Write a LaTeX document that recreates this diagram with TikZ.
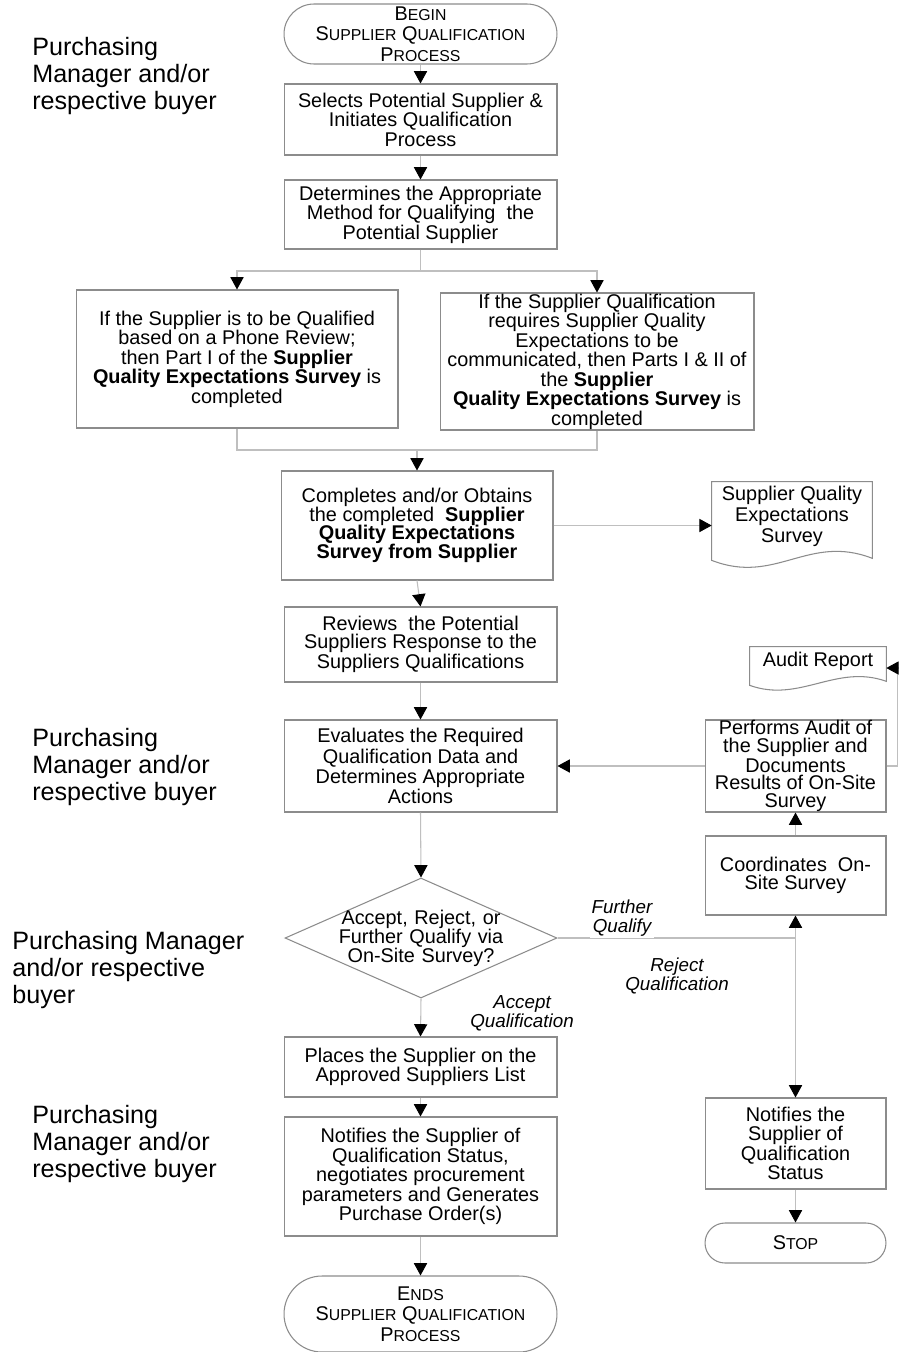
\documentclass[tikz,border=0pt]{standalone}
\usepackage{fontspec}
\setmainfont{Liberation Sans}
\usetikzlibrary{shapes.geometric,arrows.meta}
\definecolor{boxgray}{gray}{0.55}
\definecolor{linegray}{gray}{0.75}
\newcommand{\smallcap}[2]{#1{\fontsize{9}{11.7}\selectfont #2}}

\begin{document}
\begin{tikzpicture}[x=0.02cm,y=-0.02cm,
    box/.style={draw=boxgray, line width=0.6pt, align=center, inner xsep=2pt, inner ysep=0pt, font=\fontsize{11.3}{11.1}\selectfont},
    tightbox/.style={box, font=\fontsize{11.3}{10.1}\selectfont},
    term/.style={box, rounded corners=0.6cm, font=\fontsize{11.3}{11.7}\selectfont},
    decision/.style={diamond, draw=boxgray, line width=0.6pt, align=center, text width=3.5cm, inner xsep=-0.5cm, inner ysep=0pt, shape aspect=2.27, font=\fontsize{11.3}{10.8}\selectfont},
    doc/.style={align=center, inner sep=0pt, font=\fontsize{11.3}{11.9}\selectfont},
    docline/.style={draw=boxgray, line width=0.6pt},
    flow/.style={draw=linegray, line width=0.6pt, -{Triangle[width=7.5pt,length=7pt,color=black]}},
    link/.style={draw=linegray, line width=0.6pt},
    role/.style={anchor=west, align=left, inner sep=0pt, font=\fontsize{14.3}{15.2}\selectfont},
    choice/.style={align=center, inner sep=1pt, font=\itshape\fontsize{10.7}{10.8}\selectfont}]
    \useasboundingbox[fill=white] (0,0) rectangle (899,1352);

    % roles
    \node[role] (pm1) at (32,76) {Purchasing\\Manager and/or\\respective buyer};
    \node[role] (pm2) at (32,767) {Purchasing\\Manager and/or\\respective buyer};
    \node[role] (pm3) at (12,970) {Purchasing Manager\\and/or respective\\buyer};
    \node[role] (pm4) at (32,1144) {Purchasing\\Manager and/or\\respective buyer};

    % main column
    \node[term, minimum width=5.46cm, minimum height=1.2cm] (begin) at (420.5,34) {\smallcap{B}{EGIN}\\\smallcap{S}{UPPLIER} \smallcap{Q}{UALIFICATION}\\\smallcap{P}{ROCESS}};
    \node[box, minimum width=5.46cm, minimum height=1.42cm] (selects) at (420.5,119.5) {Selects Potential Supplier \&\\Initiates Qualification\\Process};
    \node[box, minimum width=5.46cm, minimum height=1.38cm] (determines) at (420.5,214.5) {Determines the Appropriate\\Method for Qualifying\ \ the\\Potential Supplier};
    \node[box, minimum width=6.44cm, minimum height=2.76cm] (phone) at (237,359) {If the Supplier is to be Qualified\\based on a Phone Review;\\then Part I of the \textbf{Supplier}\\\textbf{Quality Expectations Survey} is\\completed};
    \node[box, minimum width=6.28cm, minimum height=2.74cm] (survey) at (597,361.5) {If the Supplier Qualification\\requires Supplier Quality\\Expectations to be\\communicated, then Parts I \& II of\\the \textbf{Supplier}\\\textbf{Quality Expectations Survey} is\\completed};
    \node[box, font=\fontsize{11.3}{10.6}\selectfont, minimum width=5.44cm, minimum height=2.18cm] (completes) at (417,525.5) {Completes and/or Obtains\\the completed\ \ \textbf{Supplier}\\\textbf{Quality Expectations}\\\textbf{Survey from Supplier}};
    \node[doc, minimum width=3.2cm, minimum height=1.36cm] (sqesdoc) at (792,516) {Supplier Quality\\Expectations\\Survey};
    \node[tightbox, minimum width=5.46cm, minimum height=1.5cm] (reviews) at (420.5,644.5) {Reviews\ \ the Potential\\Suppliers Response to the\\Suppliers Qualifications};
    \node[tightbox, minimum width=5.46cm, minimum height=1.84cm] (evaluates) at (420.5,766) {Evaluates the Required\\Qualification Data and\\Determines Appropriate\\Actions};
    \node[decision, minimum width=5.44cm, minimum height=2.4cm] (decide) at (421,938) {Accept, Reject, or\\Further Qualify via\\On-Site Survey?};
    \node[box, minimum width=5.46cm, minimum height=1.2cm] (places) at (420.5,1067) {Places the Supplier on the\\Approved Suppliers List};
    \node[box, minimum width=5.46cm, minimum height=2.38cm] (notifies) at (420.5,1176.5) {Notifies the Supplier of\\Qualification Status,\\negotiates procurement\\parameters and Generates\\Purchase Order(s)};
    \node[term, rounded corners=0.76cm, minimum width=5.46cm, minimum height=1.52cm] (ends) at (420.5,1314) {\smallcap{E}{NDS}\\\smallcap{S}{UPPLIER} \smallcap{Q}{UALIFICATION}\\\smallcap{P}{ROCESS}};

    % right column
    \node[doc, minimum width=2.72cm, minimum height=0.56cm] (auditrep) at (818,661) {Audit Report};
    \node[tightbox, minimum width=3.62cm, minimum height=1.84cm] (audit) at (795.5,766) {Performs Audit of\\the Supplier and\\Documents\\Results of On-Site\\Survey};
    \node[tightbox, minimum width=3.62cm, minimum height=1.58cm] (coord) at (795.5,875.5) {Coordinates\ \ On-\\Site Survey};
    \node[box, minimum width=3.62cm, minimum height=1.82cm] (notifyrej) at (795.5,1143.5) {Notifies the\\Supplier of\\Qualification\\Status};
    \node[term, rounded corners=0.4cm, minimum width=3.62cm, minimum height=0.8cm] (stop) at (795.5,1243) {\smallcap{S}{TOP}};

    % document outlines
    \draw[docline] (sqesdoc.north west) -- ([yshift=-0.2cm]sqesdoc.south west) .. controls +(64,25) and +(-64,-25) .. ([yshift=-0.16cm]sqesdoc.south east) -- (sqesdoc.north east) -- cycle;
    \draw[docline] (auditrep.north west) -- ([yshift=-0.2cm]auditrep.south west) .. controls +(50,18) and +(-50,-18) .. ([yshift=-0.12cm]auditrep.south east) -- (auditrep.north east) -- cycle;

    % connectors
    \draw[flow] (begin.south) -- (selects.north);
    \draw[flow] (selects.south) -- (determines.north);
    \coordinate (fork) at (420.5,271);
    \draw[flow] (determines.south) -- (fork) -| (phone.north);
    \draw[flow] (fork) -| (survey.north);
    \coordinate (merge) at (417,450);
    \draw[link] (phone.south) |- (merge);
    \draw[link] (survey.south) |- (merge);
    \draw[flow] (merge) -- (completes.north);
    \draw[flow] (completes.east) -- (completes.east -| sqesdoc.west);
    \draw[flow] (completes.south) -- (reviews.north);
    \draw[flow] (reviews.south) -- (evaluates.north);
    \draw[flow] (evaluates.south) -- (decide.north);
    \draw[flow] (audit.west) -- (evaluates.east);
    \draw[flow] (audit.east) -- ++(11,0) |- ([yshift=-0.14cm]auditrep.east);
    \draw[flow] (coord.north) -- (audit.south);
    \coordinate (jn) at (decide.east -| coord.south);
    \draw[link] (decide.east) -- (jn);
    \draw[flow] (jn) -- (coord.south);
    \draw[flow] (jn) -- (notifyrej.north);
    \draw[flow] (decide.south) -- (places.north);
    \draw[flow] (places.south) -- (notifies.north);
    \draw[flow] (notifies.south) -- (ends.north);
    \draw[flow] (notifyrej.south) -- (stop.north);

    % branch labels
    \node[choice, fill=white] (furtherlbl) at (622,918) {Further\\Qualify};
    \node[choice] (rejectlbl) at (677,975.5) {Reject\\Qualification};
    \node[choice] (acceptlbl) at (522,1013) {Accept\\Qualification};
\end{tikzpicture}
\end{document}
